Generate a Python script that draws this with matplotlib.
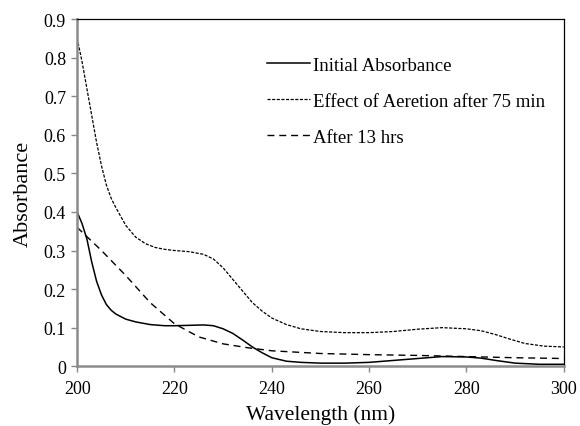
import matplotlib.pyplot as plt

plt.rcParams['font.family'] = ['Liberation Serif', 'DejaVu Serif']

wl_init = [200, 201, 202, 203, 204, 205, 206, 207, 208, 210, 212, 215, 218, 220, 223, 226, 228, 230,
           232, 234, 236, 238, 240, 243, 246, 250, 255, 260, 265, 270, 275, 280, 283, 286, 290, 295, 300]
initial = [0.40, 0.37, 0.33, 0.27, 0.22, 0.185, 0.16, 0.145, 0.135, 0.122, 0.115, 0.108, 0.105, 0.105,
           0.106, 0.107, 0.105, 0.097, 0.085, 0.068, 0.05, 0.035, 0.022, 0.013, 0.01, 0.008, 0.008, 0.01,
           0.015, 0.02, 0.025, 0.024, 0.021, 0.015, 0.008, 0.005, 0.005]

wl_aer = [200, 201, 202, 203, 204, 205, 206, 207, 208, 210, 212, 214, 216, 218, 220, 223, 226, 228,
          230, 232, 234, 236, 238, 240, 243, 246, 250, 255, 260, 265, 270, 275, 280, 283, 286, 289,
          292, 296, 300]
aeration = [0.85, 0.79, 0.72, 0.65, 0.58, 0.52, 0.47, 0.435, 0.41, 0.365, 0.335, 0.318, 0.308, 0.303,
            0.30, 0.297, 0.29, 0.278, 0.255, 0.225, 0.195, 0.165, 0.143, 0.125, 0.108, 0.097, 0.09,
            0.087, 0.087, 0.09, 0.096, 0.1, 0.097, 0.092, 0.082, 0.07, 0.059, 0.052, 0.05]

wl_13h = [200, 205, 210, 215, 220, 225, 230, 235, 240, 250, 260, 270, 280, 290, 300]
after13 = [0.36, 0.30, 0.235, 0.165, 0.11, 0.076, 0.058, 0.048, 0.04, 0.033, 0.03, 0.028, 0.025, 0.022, 0.02]

fig = plt.figure(figsize=(5.8, 4.27), dpi=100)
ax = fig.add_axes([0.133, 0.14, 0.839, 0.813])

ax.plot(wl_init, initial, color='black', lw=1.1, label='Initial Absorbance')
ax.plot(wl_aer, aeration, color='black', lw=0.9, dashes=(2.5, 1.2), label='Effect of Aeretion after 75 min')
ax.plot(wl_13h, after13, color='black', lw=1.0, dashes=(5, 3.5), label='After 13 hrs')

ax.set_xlim(200, 300)
ax.set_ylim(0, 0.9)
ax.set_xticks([200, 220, 240, 260, 280, 300])
ax.set_yticks([0, 0.1, 0.2, 0.3, 0.4, 0.5, 0.6, 0.7, 0.8, 0.9])
ax.set_yticklabels(['0', '0.1', '0.2', '0.3', '0.4', '0.5', '0.6', '0.7', '0.8', '0.9'])
ax.tick_params(labelsize=13, color='#888888', length=4, width=1, pad=4)
ax.tick_params(axis='x', pad=6)

for s in ['left', 'bottom']:
    ax.spines[s].set_color('#8c8c8c')
    ax.spines[s].set_linewidth(1.8)
for s in ['top', 'right']:
    ax.spines[s].set_color('black')
    ax.spines[s].set_linewidth(0.9)

ax.set_xlabel('Wavelength (nm)', fontsize=15.5, labelpad=5)
ax.set_ylabel('Absorbance', fontsize=16, labelpad=8)

ax.legend(loc='upper left', bbox_to_anchor=(0.355, 0.94), frameon=False, fontsize=13.5,
          handlelength=2.3, handletextpad=0.15, labelspacing=1.0)

plt.savefig('out.png', dpi=100)
